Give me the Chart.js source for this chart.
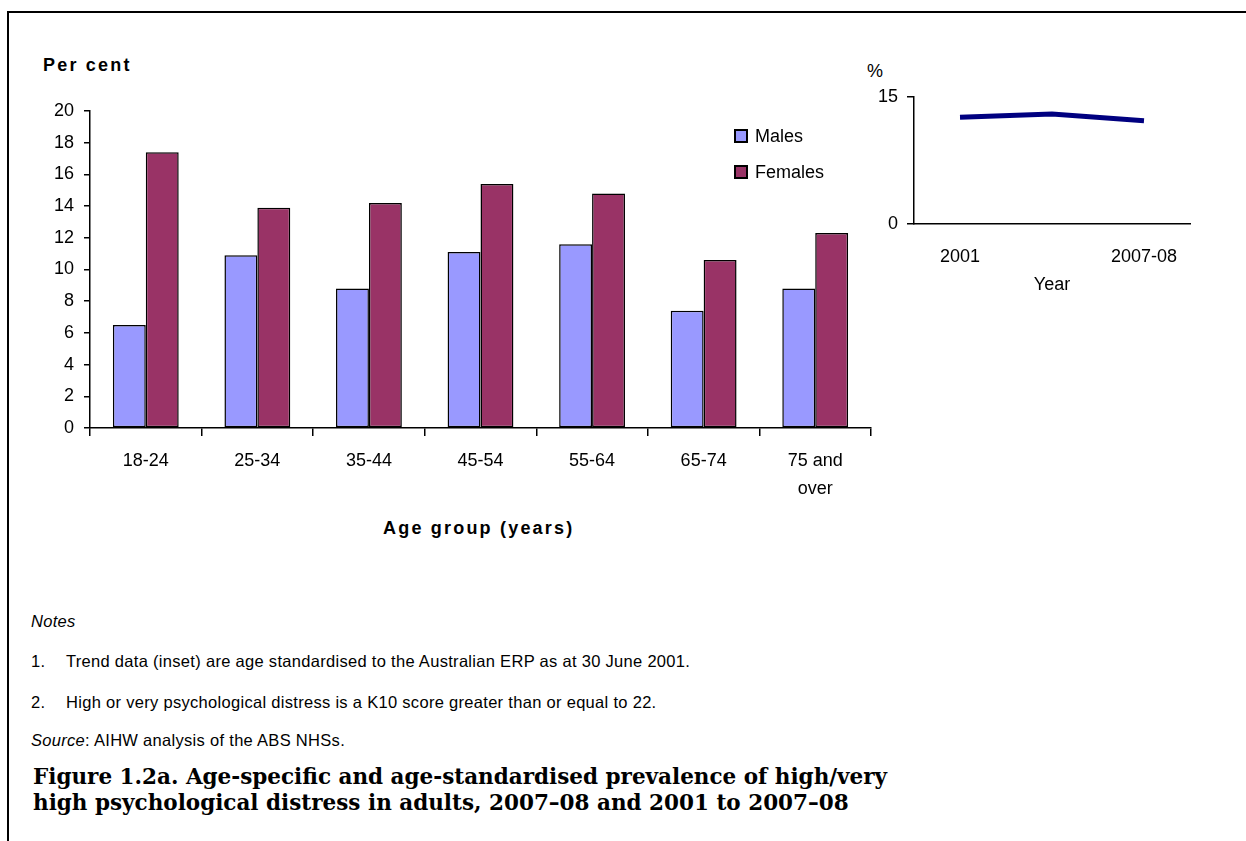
<!DOCTYPE html>
<html lang="en">
<head>
  <meta charset="UTF-8" />
  <title>Psychological distress in adults</title>
  <style>
    body { margin: 0; width: 1246px; height: 841px; overflow: hidden; background: #fff;
           font-family: "Liberation Sans", Arial, sans-serif; color: #000; position: relative; }
    .frame { position: absolute; left: 7px; top: 11px; width: 1300px; height: 900px;
             border-top: 2px solid #000; border-left: 2px solid #000; }
    .abs { position: absolute; white-space: nowrap; }
    #main-wrap { position: absolute; left: 20px; top: 95px; width: 870px; height: 420px; }
    #inset-wrap { position: absolute; left: 850px; top: 80px; width: 360px; height: 230px; }
    .axis-title { font-weight: bold; font-size: 18px; letter-spacing: 2.2px; }
    .legend-item { position: absolute; font-size: 18px; line-height: 20px; }
    .legend-item span.box { position: absolute; left: 0; top: 3px; width: 10px; height: 10px;
                            border: 2px solid #000; }
    .legend-item span.txt { position: absolute; left: 21px; top: 0; }
    .notes { font-size: 16.5px; letter-spacing: 0.3px; line-height: 19px; }
    .caption { font-family: "DejaVu Serif", "Liberation Serif", serif; font-weight: bold;
               font-size: 21.5px; line-height: 26px; }
  </style>
</head>
<body>
  <div class="frame"></div>

  <div class="abs axis-title" style="left:43px; top:55px;">Per cent</div>
  <div class="abs axis-title" style="left:383px; top:518px;">Age group (years)</div>
  <div class="abs" style="left:867px; top:61px; font-size:18px;">%</div>

  <div id="main-wrap"><canvas id="mainChart"></canvas></div>
  <div id="inset-wrap"><canvas id="insetChart"></canvas></div>

  <div id="legend"></div>

  <div class="abs notes" style="left:31px; top:612px; font-style:italic;">Notes</div>
  <div class="abs notes" style="left:31px; top:652px;">1.</div>
  <div class="abs notes" style="left:66px; top:652px;">Trend data (inset) are age standardised to the Australian ERP as at 30 June 2001.</div>
  <div class="abs notes" style="left:31px; top:693px;">2.</div>
  <div class="abs notes" style="left:66px; top:693px;">High or very psychological distress is a K10 score greater than or equal to 22.</div>
  <div class="abs notes" style="left:31px; top:731px;"><i>Source</i>: AIHW analysis of the ABS NHSs.</div>

  <div class="abs caption" style="left:33px; top:764px;">Figure 1.2a. Age-specific and age-standardised prevalence of high/very</div>
  <div class="abs caption" style="left:33px; top:790px;">high psychological distress in adults, 2007&#8211;08 and 2001 to 2007&#8211;08</div>

  <script src="https://cdn.jsdelivr.net/npm/chart.js"></script>
  <script>
    // main chart data (per cent, 2007-08)
    const ageGroups = ['18-24', '25-34', '35-44', '45-54', '55-64', '65-74', ['75 and', 'over']];
    const males = [6.5, 10.9, 8.8, 11.1, 11.6, 7.4, 8.8];
    const females = [17.4, 13.9, 14.2, 15.4, 14.8, 10.6, 12.3];
    const yTicksMain = [0, 2, 4, 6, 8, 10, 12, 14, 16, 18, 20];

    // inset trend (age standardised, per cent)
    const years = ['2001', '2004-05', '2007-08'];
    const trend = [12.6, 13.0, 12.2];
    const yTicksInset = [0, 15];

    const MALE_COLOR = '#9999FF';
    const FEMALE_COLOR = '#993366';
    const FONT = { family: '"Liberation Sans", Arial, sans-serif', size: 18 };

    Chart.defaults.color = '#000';
    Chart.defaults.animation = false;

    // keep the plot area where the layout padding puts it
    const fixedWidth = w => s => { s.width = w; s.paddingTop = 0; s.paddingBottom = 0; };
    const fixedHeight = h => s => { s.height = h; s.paddingLeft = 0; s.paddingRight = 0; };

    new Chart(document.getElementById('mainChart'), {
      type: 'bar',
      data: {
        labels: ageGroups,
        datasets: [
          { label: 'Males', data: males, backgroundColor: MALE_COLOR,
            borderColor: '#000', borderWidth: 1.5, borderSkipped: false },
          { label: 'Females', data: females, backgroundColor: FEMALE_COLOR,
            borderColor: '#000', borderWidth: 1.5, borderSkipped: false }
        ]
      },
      options: {
        responsive: true,
        maintainAspectRatio: false,
        layout: { padding: { top: 16, right: 19, bottom: 0, left: 0 } },
        datasets: { bar: { categoryPercentage: 0.59, barPercentage: 1.0 } },
        plugins: { legend: { display: false }, tooltip: { enabled: false } },
        scales: {
          x: {
            offset: true,
            grid: { offset: true, drawOnChartArea: false, tickLength: 8, color: '#000', lineWidth: 1.5 },
            border: { color: '#000', width: 1.5 },
            ticks: { font: { ...FONT, lineHeight: 1.55 }, padding: 11, maxRotation: 0, autoSkip: false },
            afterFit: fixedHeight(87)
          },
          y: {
            min: 0, max: 20,
            afterBuildTicks: s => { s.ticks = yTicksMain.map(v => ({ value: v })); },
            grid: { drawOnChartArea: false, tickLength: 6, color: '#000', lineWidth: 1.5 },
            border: { color: '#000', width: 1.5 },
            ticks: { font: FONT, padding: 10 },
            afterFit: fixedWidth(70)
          }
        }
      }
    });

    new Chart(document.getElementById('insetChart'), {
      type: 'line',
      data: {
        labels: years,
        datasets: [{ label: 'Persons', data: trend, borderColor: '#000080', borderWidth: 5,
                     pointRadius: 0, tension: 0, fill: false }]
      },
      options: {
        responsive: true,
        maintainAspectRatio: false,
        layout: { padding: { top: 17, right: 20, bottom: 11, left: 0 } },
        plugins: { legend: { display: false }, tooltip: { enabled: false } },
        scales: {
          x: {
            offset: true,
            grid: { display: false, drawTicks: false, tickLength: 0 },
            border: { display: true, color: '#000', width: 1.5 },
            ticks: { font: FONT, padding: 22, maxRotation: 0, autoSkip: false,
                     callback: function (v, i) { return (i === 0 || i === years.length - 1) ? this.getLabelForValue(v) : ''; } },
            title: { display: true, text: 'Year', font: FONT, padding: { top: 0, bottom: 3 } },
            afterFit: fixedHeight(75)
          },
          y: {
            min: 0, max: 15,
            afterBuildTicks: s => { s.ticks = yTicksInset.map(v => ({ value: v })); },
            grid: { drawOnChartArea: false, tickLength: 7, color: '#000', lineWidth: 1.5 },
            border: { color: '#000', width: 1.5 },
            ticks: { font: FONT, padding: 9 },
            afterFit: fixedWidth(64)
          }
        }
      }
    });

    // legend built from the dataset names and colours
    const legendEl = document.getElementById('legend');
    [['Males', MALE_COLOR, 126], ['Females', FEMALE_COLOR, 162]].forEach(([name, color, top]) => {
      const item = document.createElement('div');
      item.className = 'legend-item';
      item.style.left = '734px';
      item.style.top = top + 'px';
      item.innerHTML = `<span class="box" style="background:${color}"></span><span class="txt">${name}</span>`;
      legendEl.appendChild(item);
    });
  </script>
</body>
</html>
